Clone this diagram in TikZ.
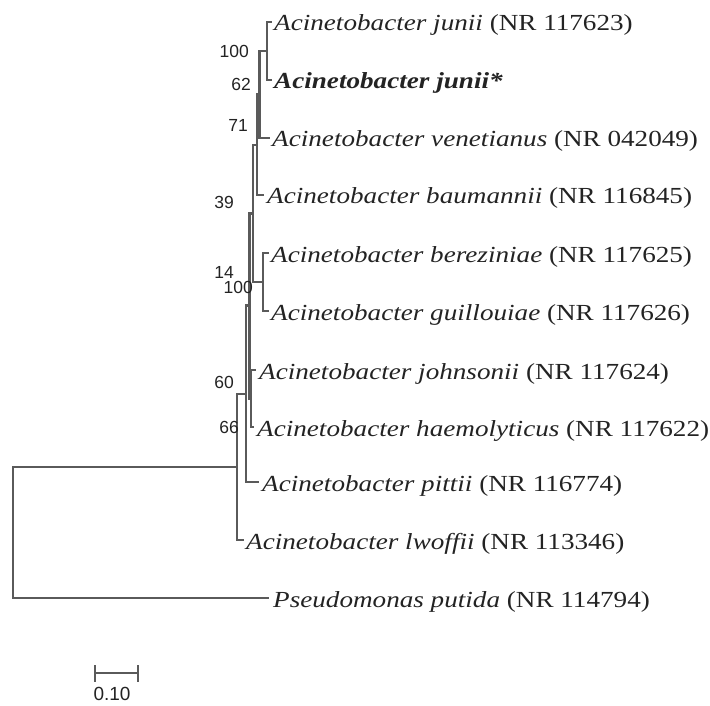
\documentclass[tikz,border=0pt]{standalone}
\usepackage{fontspec}
\setmainfont{Liberation Serif}
\newfontfamily\leaffont[FakeStretch=1.18]{Liberation Serif}
\newfontfamily\numfont{Liberation Sans}
\definecolor{branchgray}{RGB}{90,90,90}
\definecolor{textgray}{RGB}{35,35,35}
\tikzset{
  branch/.style={draw=branchgray, line width=2.1pt, line cap=rect},
  leaf/.style={anchor=base west, inner sep=0pt, text=textgray, font=\leaffont\fontsize{23}{23}\selectfont},
  boot/.style={anchor=east, inner sep=0pt, text=textgray, font=\numfont\fontsize{17.5}{17.5}\selectfont},
  scalelab/.style={inner sep=0pt, text=textgray, font=\numfont\fontsize{19}{19}\selectfont}
}
\begin{document}
\begin{tikzpicture}[x=1pt,y=-1pt]
\useasboundingbox (0,0) rectangle (710,706);
% internal nodes
\coordinate (Rt) at (13,532.5);
\coordinate (A)  at (237,467);
\coordinate (B)  at (246,394);
\coordinate (C)  at (249.5,305.5);
\coordinate (Q)  at (251,398.5);
\coordinate (N4) at (253,213.5);
\coordinate (P)  at (263,282);
\coordinate (N3) at (257,145);
\coordinate (N2) at (259.5,94.5);
\coordinate (N1) at (267,51);
% leaf ends
\coordinate (ju) at (271,22);
\coordinate (js) at (271,80);
\coordinate (ve) at (269,138);
\coordinate (ba) at (263,195);
\coordinate (be) at (268,253);
\coordinate (gu) at (268,311);
\coordinate (jo) at (255,370);
\coordinate (ha) at (253,427);
\coordinate (pi) at (258,482);
\coordinate (lw) at (243,540);
\coordinate (ps) at (268,598);
% branches
\draw[branch] (Rt) |- (A);
\draw[branch] (Rt) |- (ps);
\draw[branch] (A) |- (B);
\draw[branch] (A) |- (lw);
\draw[branch] (B) |- (C);
\draw[branch] (B) |- (pi);
\draw[branch] (C) |- (N4);
\draw[branch] (C) |- (Q);
\draw[branch] (Q) |- (jo);
\draw[branch] (Q) |- (ha);
\draw[branch] (N4) |- (N3);
\draw[branch] (N4) |- (P);
\draw[branch] (P) |- (be);
\draw[branch] (P) |- (gu);
\draw[branch] (N3) |- (N2);
\draw[branch] (N3) |- (ba);
\draw[branch] (N2) |- (N1);
\draw[branch] (N2) |- (ve);
\draw[branch] (N1) |- (ju);
\draw[branch] (N1) |- (js);
% leaf labels
\node[leaf] (tju) at ([xshift=3pt,yshift=-9pt]ju) {\textit{Acinetobacter junii} (NR 117623)};
\node[leaf] (tjs) at ([xshift=3pt,yshift=-8.5pt]js) {\textbf{\textit{Acinetobacter junii*}}};
\node[leaf] (tve) at ([xshift=3pt,yshift=-9pt]ve) {\textit{Acinetobacter venetianus} (NR 042049)};
\node[leaf] (tba) at ([xshift=4pt,yshift=-9pt]ba) {\textit{Acinetobacter baumannii} (NR 116845)};
\node[leaf] (tbe) at ([xshift=3pt,yshift=-9pt]be) {\textit{Acinetobacter bereziniae} (NR 117625)};
\node[leaf] (tgu) at ([xshift=3pt,yshift=-9pt]gu) {\textit{Acinetobacter guillouiae} (NR 117626)};
\node[leaf] (tjo) at ([xshift=4pt,yshift=-9pt]jo) {\textit{Acinetobacter johnsonii} (NR 117624)};
\node[leaf] (tha) at ([xshift=4pt,yshift=-9pt]ha) {\textit{Acinetobacter haemolyticus} (NR 117622)};
\node[leaf] (tpi) at ([xshift=4pt,yshift=-9pt]pi) {\textit{Acinetobacter pittii} (NR 116774)};
\node[leaf] (tlw) at ([xshift=3pt,yshift=-9pt]lw) {\textit{Acinetobacter lwoffii} (NR 113346)};
\node[leaf] (tps) at ([xshift=5pt,yshift=-9pt]ps) {\textit{Pseudomonas putida} (NR 114794)};
% bootstrap values
\node[boot] (b1) at (249,51) {100};
\node[boot] (b2) at (251,84) {62};
\node[boot] (b3) at (248,125) {71};
\node[boot] (b4) at (234,202) {39};
\node[boot] (b5) at (234,272) {14};
\node[boot] (b6) at (253,287) {100};
\node[boot] (b7) at (234,382) {60};
\node[boot] (b8) at (239,427) {66};
% scale bar
\coordinate (s1) at (95,673);
\coordinate (s2) at (138,673);
\draw[branch, line width=1.8pt] (s1) -- (s2);
\draw[branch, line width=1.8pt] ([yshift=7pt]s1) -- ([yshift=-8pt]s1);
\draw[branch, line width=1.8pt] ([yshift=7pt]s2) -- ([yshift=-8pt]s2);
\node[scalelab] (slab) at (112,694) {0.10};
\end{tikzpicture}
\end{document}
